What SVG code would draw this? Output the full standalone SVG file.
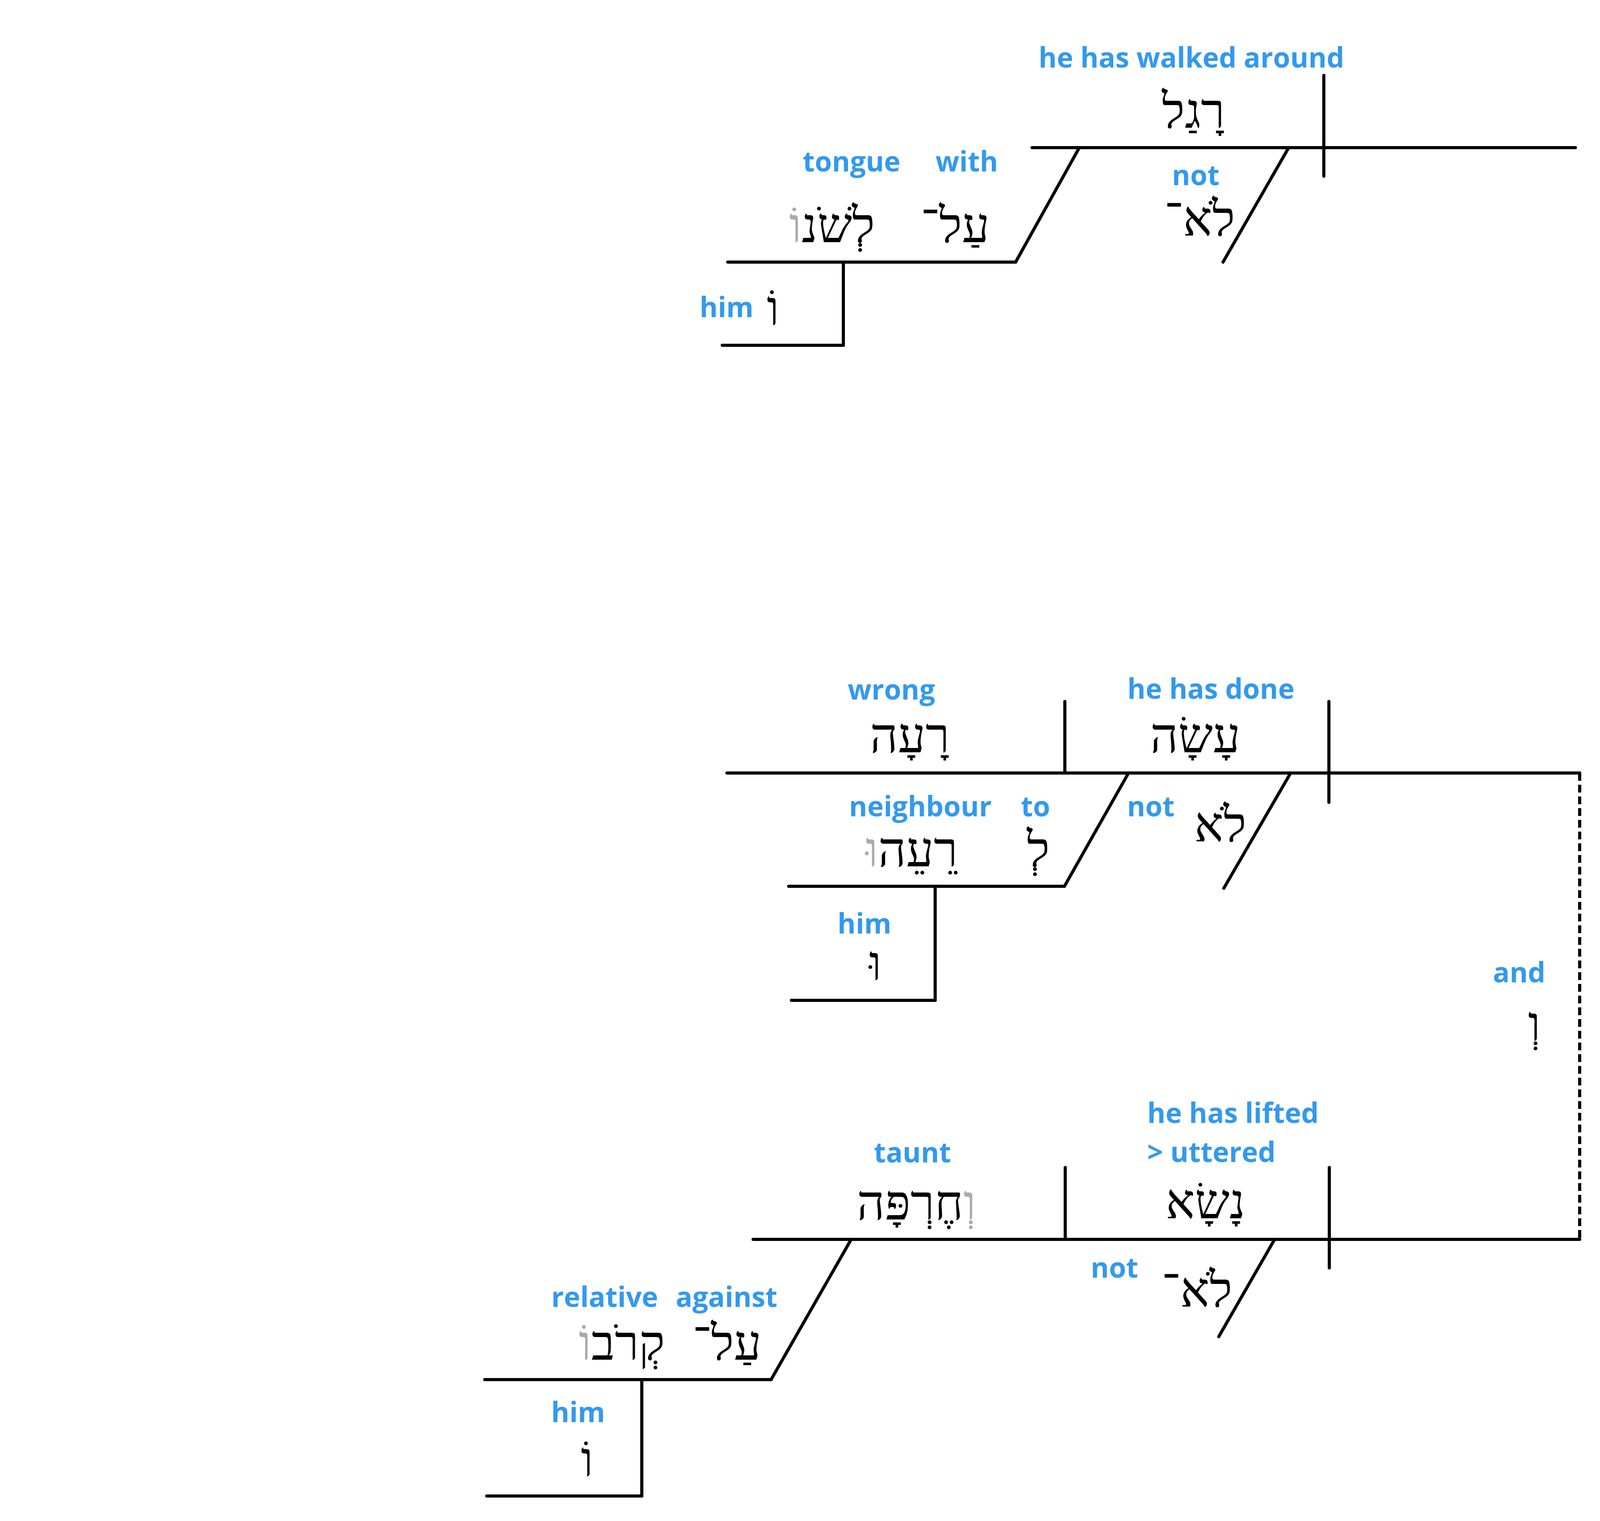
<svg xmlns="http://www.w3.org/2000/svg" width="4108" height="3894" viewBox="0 0 4108 3894">
<style>
.ln{stroke:#000;stroke-width:8;stroke-linecap:round;fill:none}
.dash{stroke:#000;stroke-width:8;fill:none;stroke-dasharray:20 10}
.en{font-family:"Open Sans","Noto Sans","DejaVu Sans",sans-serif;font-weight:bold;font-size:71px;fill:#3399ee;text-anchor:middle}
.en.st{text-anchor:start}
.he{font-family:"Liberation Serif","DejaVu Serif",serif;font-size:125px;fill:#000;text-anchor:middle}
.g{fill:#aaaaaa}
</style>
<rect width="4108" height="3894" fill="#fff"/>
<g id="clause1">
  <g id="c1-base"><line class="ln" x1="2642" y1="378" x2="4033" y2="378"/><line class="ln" x1="3389" y1="193" x2="3389" y2="451"/></g>
  <g id="c1-verb"><text class="en" x="3050" y="173">he has walked around</text><text class="he" x="3055" y="327">רָגַל</text></g>
  <g id="c1-neg"><text class="en" x="3061" y="474">not</text><text class="he" x="3071" y="603">לֹא־</text></g>
  <g id="c1-prep"><line class="ln" x1="1863" y1="671" x2="2600" y2="671"/><text class="en" x="2180" y="439">tongue</text><text class="en" x="2475" y="439">with</text><text class="he" x="2130" y="620">לְשֹׁנ<tspan class="g">וֹ</tspan></text><text class="he" x="2445" y="620">עַל־</text></g>
  <g id="c1-poss"><line class="ln" x1="2159" y1="671" x2="2159" y2="884"/><line class="ln" x1="1849" y1="884" x2="2159" y2="884"/><text class="en" x="1860" y="812">him</text><text class="he" x="1979" y="832">וֹ</text></g>
</g>
<g id="clause2">
  <g id="c2-base"><line class="ln" x1="1861" y1="1979" x2="4044" y2="1979"/><line class="ln" x1="2726" y1="1796" x2="2726" y2="1979"/><line class="ln" x1="3402" y1="1796" x2="3402" y2="2054"/></g>
  <g id="c2-obj"><text class="en" x="2282" y="1791">wrong</text><text class="he" x="2329" y="1926">רָעָה</text></g>
  <g id="c2-verb"><text class="en" x="3100" y="1789">he has done</text><text class="he" x="3060" y="1926">עָשָׂה</text></g>
  <g id="c2-neg"><text class="en" x="2946" y="2090">not</text><text class="he" x="3124" y="2154">לֹא</text></g>
  <g id="c2-prep"><line class="ln" x1="2019" y1="2269" x2="2725" y2="2269"/><text class="en" x="2356" y="2090">neighbour</text><text class="en" x="2651" y="2090">to</text><text class="he" x="2334" y="2218">רֵעֵה<tspan class="g">וּ</tspan></text><text class="he" x="2658" y="2218">לְ</text></g>
  <g id="c2-poss"><line class="ln" x1="2394" y1="2269" x2="2394" y2="2561"/><line class="ln" x1="2026" y1="2561" x2="2394" y2="2561"/><text class="en" x="2213" y="2390">him</text><text class="he" x="2241" y="2509">וּ</text></g>
</g>
<g id="conj"><text class="en" x="3889" y="2515">and</text><text class="he" x="3928" y="2664">וְ</text></g>
<g id="clause3">
  <g id="c3-base"><line class="ln" x1="1928" y1="3173" x2="4044" y2="3173"/><line class="ln" x1="2727" y1="2989" x2="2727" y2="3173"/><line class="ln" x1="3403" y1="2989" x2="3403" y2="3246"/></g>
  <g id="c3-verb"><text class="en st" x="2937" y="2875">he has lifted</text><text class="en st" x="2937" y="2975">&gt; uttered</text><text class="he" x="3086" y="3119">נָשָׂא</text></g>
  <g id="c3-obj"><text class="en" x="2336" y="2976">taunt</text><text class="he" x="2346" y="3122"><tspan class="g">וְ</tspan>חֶרְפָּה</text></g>
  <g id="c3-neg"><text class="en" x="2853" y="3271">not</text><text class="he" x="3064" y="3345">לֹא־</text></g>
  <g id="c3-prep"><line class="ln" x1="1241" y1="3532" x2="1974" y2="3532"/><text class="en" x="1548" y="3346">relative</text><text class="en" x="1860" y="3346">against</text><text class="he" x="1592" y="3481">קְרֹב<tspan class="g">וֹ</tspan></text><text class="he" x="1861" y="3481">עַל־</text></g>
  <g id="c3-poss"><line class="ln" x1="1643" y1="3532" x2="1643" y2="3830"/><line class="ln" x1="1246" y1="3830" x2="1643" y2="3830"/><text class="en" x="1480" y="3641">him</text><text class="he" x="1503" y="3779">וֹ</text></g>
</g>
<g id="connectors">
  <line class="ln" x1="2763" y1="378" x2="2600" y2="671"/>
  <line class="ln" x1="3299" y1="378" x2="3131" y2="671"/>
  <line class="ln" x1="2889" y1="1979" x2="2725" y2="2269"/>
  <line class="ln" x1="3304" y1="1979" x2="3133" y2="2274"/>
  <line class="ln" x1="2179" y1="3173" x2="1974" y2="3532"/>
  <line class="ln" x1="3263" y1="3173" x2="3120" y2="3422"/>
  <line class="dash" x1="4044" y1="1979" x2="4044" y2="3173"/>
</g>
</svg>
